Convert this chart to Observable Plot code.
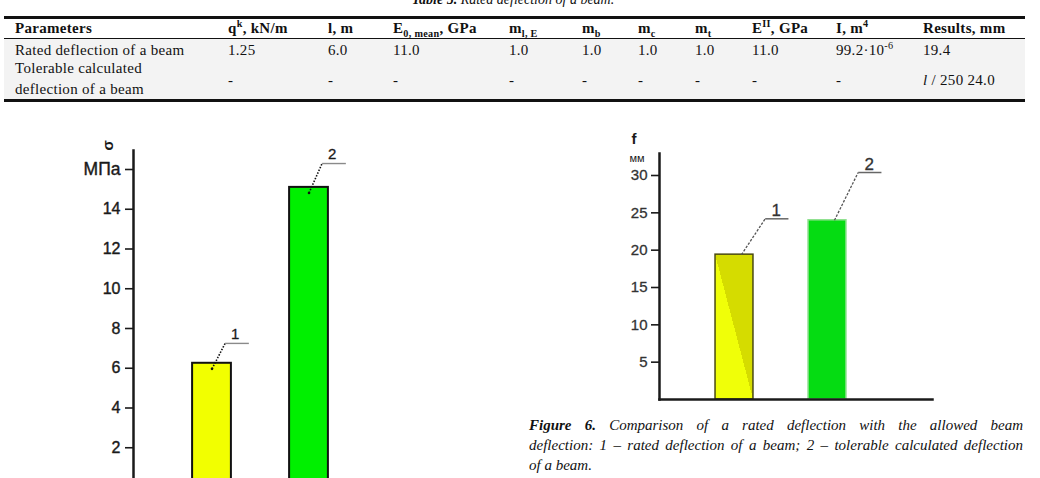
<!DOCTYPE html>
<html>
<head>
<meta charset="utf-8">
<script src="https://cdn.jsdelivr.net/npm/d3@7"></script>
<script src="https://cdn.jsdelivr.net/npm/@observablehq/plot@0.6"></script>
<style>
  html, body { margin: 0; padding: 0; background: #fff; }
  #page { position: relative; width: 1040px; height: 478px; overflow: hidden;
          font-family: "Liberation Serif", "Times New Roman", serif; color: #111; }
  .abs { position: absolute; white-space: nowrap; }
  .cell { font-size: 15px; line-height: 16px; letter-spacing: 0.3px; }
  .head { font-weight: bold; }
  .multi { line-height: 21px; }
  sup, sub { font-size: 68%; line-height: 0; }
  .rule { position: absolute; background: #111; }
  .chart { position: absolute; }
  .chart svg { display: block; }
  .chart [aria-label^="y-axis"] path, .chart [aria-label^="y-axis"] line { stroke-width: 1.6; }
  .caption { position: absolute; left: 529px; width: 494px; font-style: italic;
             font-size: 15px; line-height: 20px; white-space: nowrap; }
  .justify { text-align: justify; text-align-last: justify; white-space: normal; }
</style>
</head>
<body>
<div id="page"></div>
<script>
// ---- Table 5: rated deflection of a beam ----
const tableTitle = "Rated deflection of a beam.";
const columnHeads = ["Parameters", "q<sup>k</sup>, kN/m", "l, m", "E<sub>0, mean</sub>, GPa",
  "m<sub>l, E</sub>", "m<sub>b</sub>", "m<sub>c</sub>", "m<sub>t</sub>", "E<sup>II</sup>, GPa",
  "I, m<sup>4</sup>", "Results, mm"];
const ratedRow = ["Rated deflection of a beam", "1.25", "6.0", "11.0", "1.0", "1.0", "1.0", "1.0",
  "11.0", "99.2·10<sup>-6</sup>", "19.4"];
const tolerableRow = ["Tolerable calculated<br>deflection of a beam", "-", "-", "-", "-", "-", "-", "-",
  "-", "-", "<i>l</i> / 250 24.0"];

// ---- Figure 6 data ----
const barLabels = ["1", "2"];
const stressValues = [6.25, 15.1];          // σ, MPa
const stressTicks = [2, 4, 6, 8, 10, 12, 14, 16];
const stressUnit = "МПа";                   // printed in place of the 16 tick label
const deflectionValues = [19.4, 24.0];      // f, mm (rated, tolerable l/250)
const deflectionTicks = [5, 10, 15, 20, 25, 30];
const captionLines = [
  "<b>Figure 6.</b> Comparison of a rated deflection with the allowed beam",
  "deflection: 1 – rated deflection of a beam; 2 – tolerable calculated deflection",
  "of a beam."
];

const page = document.getElementById("page");
function place(html, cls, left, top, extra = {}) {
  const el = document.createElement("div");
  el.className = cls;
  el.innerHTML = html;
  el.style.left = left + "px";
  el.style.top = top + "px";
  Object.assign(el.style, extra);
  page.appendChild(el);
  return el;
}

// table title and rules
place(`<b>Table 5.</b> ${tableTitle}`, "abs", 0, -8,
  {width: "1026px", textAlign: "center", fontStyle: "italic", fontSize: "14px", lineHeight: "16px"});
const rowShade = document.createElement("div");
Object.assign(rowShade.style, {position: "absolute", left: "4px", top: "39px", width: "1021px", height: "60px", background: "#f3f3f3"});
page.appendChild(rowShade);
[[16, 2.6], [38, 1.1], [99, 2.6]].forEach(([top, h]) => {
  const r = document.createElement("div");
  r.className = "rule";
  Object.assign(r.style, {left: "4px", top: top + "px", width: "1021px", height: h + "px"});
  page.appendChild(r);
});

// table cells
const columnX = [15, 228, 328, 393, 509, 582, 638, 695, 752, 836, 923];
columnHeads.forEach((h, i) => place(h, "abs cell head", columnX[i], 20));
ratedRow.forEach((v, i) => place(v, "abs cell", columnX[i], 42));
tolerableRow.forEach((v, i) => i === 0
  ? place(v, "abs cell multi", columnX[i], 57.5)
  : place(v, "abs cell", columnX[i], 72));

// ---- charts ----
const chartFont = '"Liberation Sans", Arial, Helvetica, sans-serif';
const ink = "#1a1a1a";
function mount(svg, left, top) {
  const box = document.createElement("div");
  box.className = "chart";
  box.style.left = left + "px";
  box.style.top = top + "px";
  box.appendChild(svg);
  page.appendChild(box);
}
// narrow the tick numerals horizontally (tall condensed figures)
function condense(svg, label, sx) {
  svg.querySelectorAll(`g[aria-label="${label}"] text`).forEach(t => {
    const x = +t.getAttribute("x") || 0, y = +t.getAttribute("y") || 0;
    const tr = t.getAttribute("transform") || "";
    t.setAttribute("transform", `${tr} translate(${x},${y}) scale(${sx},1) translate(${-x},${-y})`);
  });
}

// stress chart (σ, MPa)
const stressFill = ["#f2ff00", "#00f000"];
const sHalf = 0.2;
const sLead = {start: -0.28, elbowX: 0.135, endX: 0.38, labelX: 0.24, rise: [1.0, 1.2]};
const stressRows = barLabels.map((label, i) => ({label, pos: i + 1, value: stressValues[i], rise: sLead.rise[i]}));
const stressTop = stressTicks[stressTicks.length - 1];

const stressPlot = Plot.plot({
  width: 400, height: 348,
  marginLeft: 133, marginTop: 20, marginRight: 0, marginBottom: 0,
  style: {fontFamily: chartFont, fontSize: "15px", color: ink, background: "transparent", overflow: "hidden"},
  x: {type: "linear", domain: [1, 2], range: [211.5, 308.5], axis: null},
  y: {domain: [0, 16], range: [357, 39], ticks: stressTicks, tickFormat: () => "", tickSize: 8, label: null},
  color: {type: "identity"},
  marks: [
    Plot.rectY(stressRows, {x1: d => d.pos - sHalf, x2: d => d.pos + sHalf, y1: 0, y2: "value",
      fill: (d, i) => stressFill[i], stroke: "#111", strokeWidth: 2}),
    Plot.frame({anchor: "left", stroke: ink, strokeWidth: 2.5}),
    Plot.text(stressTicks.filter(t => t !== stressTop), {y: d => d, text: d => String(d), frameAnchor: "left",
      dx: -13, textAnchor: "end", fontSize: 16, fill: ink, stroke: ink, strokeWidth: 0.4, ariaLabel: "tick numerals"}),
    Plot.text([stressTop], {y: d => d, text: () => stressUnit, frameAnchor: "left", dx: -13, textAnchor: "end",
      fontSize: 17.5, fill: ink, stroke: ink, strokeWidth: 0.4}),
    Plot.link(stressRows, {x1: "pos", y1: d => d.value + sLead.start,
      x2: d => d.pos + sLead.elbowX, y2: d => d.value + d.rise,
      stroke: "#111", strokeWidth: 1.6, strokeDasharray: "1.5,1.5"}),
    Plot.link(stressRows, {x1: d => d.pos + sLead.elbowX, y1: d => d.value + d.rise,
      x2: d => d.pos + sLead.endX, y2: d => d.value + d.rise, stroke: "#8a8a8a", strokeWidth: 1.4}),
    Plot.dot(stressRows, {x: "pos", y: d => d.value + sLead.start, r: 1.3, fill: "#111"}),
    Plot.text(stressRows, {x: d => d.pos + sLead.labelX, y: d => d.value + d.rise, dy: -9,
      text: "label", fontSize: 15, fill: ink, stroke: ink, strokeWidth: 0.3}),
    Plot.text(["σ"], {frameAnchor: "top-left", dx: -31, dy: 0, rotate: -90, fontSize: 15, fontWeight: "bold", text: d => d, fill: ink})
  ]
});
condense(stressPlot, "tick numerals", 0.76);
mount(stressPlot, 0, 130);

// deflection chart (f, mm)
const deflFill = ["url(#ratedFill)", "#05dc12"];
const deflStroke = ["#4a4a12", "#8fe08f"];
const dHalf = 0.204;
const dLead = {start: 0.075, elbowX: 0.33, endX: 0.58, labelX: 0.45, rise: [4.8, 6.4]};
const deflRows = barLabels.map((label, i) => ({label, pos: i + 1, value: deflectionValues[i], rise: dLead.rise[i]}));

const deflPlot = Plot.plot({
  width: 400, height: 290,
  marginLeft: 99, marginTop: 33, marginRight: 28, marginBottom: 11,
  style: {fontFamily: chartFont, fontSize: "15px", color: ink, background: "transparent"},
  x: {type: "linear", domain: [1, 2], range: [174, 267], axis: null},
  y: {domain: [0, 30], range: [279, 55], ticks: deflectionTicks, tickFormat: () => "", tickSize: 8, label: null},
  color: {type: "identity"},
  marks: [
    Plot.rectY(deflRows, {x1: d => d.pos - dHalf, x2: d => d.pos + dHalf, y1: 0, y2: "value",
      fill: (d, i) => deflFill[i], stroke: (d, i) => deflStroke[i], strokeWidth: 1.5}),
    Plot.frame({anchor: "left", stroke: ink, strokeWidth: 2.5}),
    Plot.frame({anchor: "bottom", stroke: ink, strokeWidth: 2.5}),
    Plot.text(deflectionTicks, {y: d => d, text: d => String(d), frameAnchor: "left", dx: -12, textAnchor: "end",
      fontSize: 15, fill: "#333", stroke: "#333", strokeWidth: 0.3, ariaLabel: "tick numerals"}),
    Plot.link(deflRows, {x1: d => d.pos + dLead.start, y1: "value",
      x2: d => d.pos + dLead.elbowX, y2: d => d.value + d.rise,
      stroke: "#555", strokeWidth: 1.3, strokeDasharray: "2.5,1.5"}),
    Plot.link(deflRows, {x1: d => d.pos + dLead.elbowX, y1: d => d.value + d.rise,
      x2: d => d.pos + dLead.endX, y2: d => d.value + d.rise, stroke: "#666", strokeWidth: 1.5}),
    Plot.text(deflRows, {x: d => d.pos + dLead.labelX, y: d => d.value + d.rise, dy: -8,
      text: "label", fontSize: 17, fill: "#333", stroke: "#333", strokeWidth: 0.3}),
    Plot.text(["f"], {frameAnchor: "top-left", dx: -28, dy: -20, fontSize: 15, fontWeight: "bold", text: d => d, fill: ink}),
    Plot.text(["мм"], {frameAnchor: "top-left", dx: -15, dy: 1, textAnchor: "end", fontSize: 11, text: d => d, fill: ink})
  ]
});
condense(deflPlot, "tick numerals", 0.8);
const defs = document.createElementNS("http://www.w3.org/2000/svg", "defs");
defs.innerHTML = '<linearGradient id="ratedFill" x1="0" y1="1" x2="1" y2="0">' +
  '<stop offset="0.5" stop-color="#f0ff08"/><stop offset="0.5" stop-color="#d5dc00"/></linearGradient>';
deflPlot.insertBefore(defs, deflPlot.firstChild);
mount(deflPlot, 560, 120);

// caption
captionLines.forEach((line, i) =>
  place(line, "caption" + (i < captionLines.length - 1 ? " justify" : ""), 529, 414.5 + i * 20));
</script>
</body>
</html>
